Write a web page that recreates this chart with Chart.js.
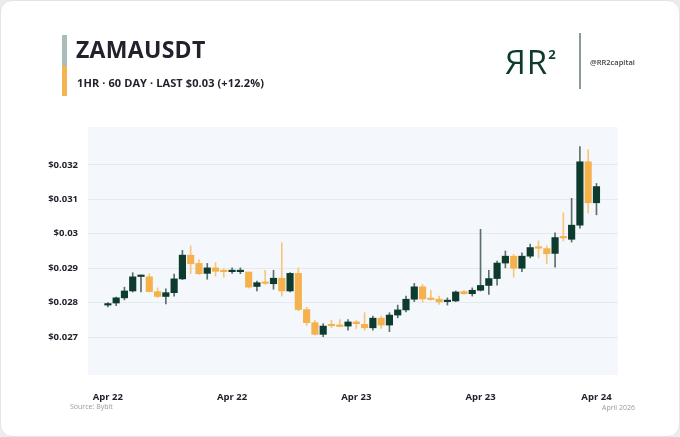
<!DOCTYPE html>
<html>
<head>
<meta charset="utf-8">
<script src="https://cdn.jsdelivr.net/npm/chart.js@4.4.1/dist/chart.umd.min.js"></script>
<style>
  html, body { margin: 0; padding: 0; background: #ececec; }
  #card { position: absolute; left: 0; top: 0; width: 678px; height: 435px; background: #fff;
          border: 1px solid #e4e4e4; border-radius: 12px; overflow: hidden; font-family: "Open Sans", sans-serif; }
  canvas { position: absolute; left: 0; top: 0; }
  .bar1 { position: absolute; left: 61px; top: 34px; width: 5px; height: 31px; background: #a9bebb; }
  .bar2 { position: absolute; left: 61px; top: 65px; width: 5px; height: 30px; background: #f3b451; }
  #title { position: absolute; left: 75px; top: 32px; font-size: 23px; font-weight: 700; color: #22222c; letter-spacing: 0.3px; }
  #sub { position: absolute; left: 76px; top: 74px; font-size: 11px; font-weight: 700; color: #22222c; letter-spacing: 0.1px; }
  #logo { position: absolute; left: 504px; top: 38px; font-size: 33px; font-weight: 500; color: #0d3b2e; letter-spacing: 1px; }
  #logo sup { font-size: 13px; font-weight: 700; position: relative; top: -3px; margin-left: 0px; }
  #divider { position: absolute; left: 578px; top: 32px; width: 1.5px; height: 56px; background: #8a9a95; }
  #handle { position: absolute; left: 589px; top: 56px; font-size: 7.5px; font-weight: 600; color: #444; }
  #src { position: absolute; left: 69px; top: 401px; font-size: 7px; color: #9a9a9a; }
  #date { position: absolute; left: 601px; top: 402px; font-size: 7px; color: #9a9a9a; }
</style>
</head>
<body>
<div id="card">
  <canvas id="graf" width="680" height="437"></canvas>
  <div class="bar1"></div><div class="bar2"></div>
  <div id="title">ZAMAUSDT</div>
  <div id="sub">1HR · 60 DAY · LAST $0.03 (+12.2%)</div>
  <div id="logo">ЯR<sup>2</sup></div>
  <div id="divider"></div>
  <div id="handle">@RR2capital</div>
  <div id="src">Source: Bybit</div>
  <div id="date">April 2026</div>
</div>
<script>
// velas de 1 hora
var abertura = [0.02793,0.02799,0.02814,0.02834,0.02876,0.02875,0.02832,0.02818,0.02829,0.02869,
                0.02938,0.02914,0.02885,0.02901,0.02891,0.02890,0.02890,0.02889,0.02847,0.02858,
                0.02855,0.02871,0.02834,0.02885,0.02780,0.02742,0.02708,0.02734,0.02733,0.02732,
                0.02744,0.02737,0.02727,0.02755,0.02735,0.02764,0.02779,0.02810,0.02846,0.02811,
                0.02810,0.02803,0.02805,0.02832,0.02826,0.02836,0.02850,0.02870,0.02915,0.02935,
                0.02900,0.02935,0.02960,0.02957,0.02943,0.02990,0.02984,0.03025,0.03209,0.03090];
var maxima   = [0.02800,0.02816,0.02845,0.02887,0.02880,0.02884,0.02843,0.02840,0.02883,0.02952,
                0.02965,0.02925,0.02914,0.02916,0.02898,0.02901,0.02901,0.02889,0.02863,0.02894,
                0.02894,0.02974,0.02887,0.02901,0.02787,0.02749,0.02739,0.02749,0.02751,0.02751,
                0.02749,0.02771,0.02761,0.02761,0.02771,0.02793,0.02819,0.02856,0.02853,0.02836,
                0.02819,0.02814,0.02834,0.02836,0.02843,0.03013,0.02894,0.02921,0.02950,0.02940,
                0.02945,0.02970,0.02979,0.02965,0.03003,0.03061,0.03103,0.03253,0.03244,0.03146];
var minima   = [0.02788,0.02791,0.02808,0.02831,0.02831,0.02831,0.02815,0.02796,0.02819,0.02867,
                0.02884,0.02882,0.02868,0.02877,0.02874,0.02885,0.02884,0.02842,0.02834,0.02853,
                0.02839,0.02819,0.02831,0.02776,0.02734,0.02706,0.02701,0.02727,0.02730,0.02720,
                0.02725,0.02720,0.02720,0.02725,0.02716,0.02756,0.02773,0.02803,0.02802,0.02807,
                0.02795,0.02793,0.02803,0.02824,0.02819,0.02834,0.02824,0.02851,0.02901,0.02874,
                0.02890,0.02930,0.02930,0.02913,0.02903,0.02979,0.02976,0.03016,0.03060,0.03055];
var fechamento = [0.02796,0.02814,0.02834,0.02875,0.02877,0.02832,0.02818,0.02829,0.02869,0.02938,
                0.02913,0.02884,0.02901,0.02891,0.02890,0.02891,0.02891,0.02845,0.02858,0.02856,
                0.02871,0.02834,0.02885,0.02780,0.02742,0.02708,0.02732,0.02733,0.02731,0.02744,
                0.02739,0.02727,0.02755,0.02735,0.02764,0.02779,0.02810,0.02846,0.02811,0.02809,
                0.02802,0.02805,0.02831,0.02826,0.02836,0.02850,0.02870,0.02915,0.02935,0.02900,
                0.02935,0.02960,0.02958,0.02942,0.02989,0.02988,0.03025,0.03209,0.03090,0.03137];

// rotulos do eixo X
var posRotulos = [0, 15, 30, 45, 59];
var rotulos = ['Apr 22', 'Apr 22', 'Apr 23', 'Apr 23', 'Apr 24'];
// rotulos do eixo Y
var ticksY = [0.027, 0.028, 0.029, 0.030, 0.031, 0.032];

var verde = '#0d3b2e', laranja = '#f5b24c';
var pavioVerde = '#5d6f6a', pavioLaranja = '#f7c67a';

var corpos = [], pavios = [], corCorpo = [], corPavio = [];
for (var i = 0; i < abertura.length; i++) {
    var alta = fechamento[i] >= abertura[i];
    corpos.push({x: i, y: [abertura[i], fechamento[i]]});
    pavios.push({x: i, y: [minima[i], maxima[i]]});
    corCorpo.push(alta ? verde : laranja);
    corPavio.push(alta ? pavioVerde : pavioLaranja);
}

var fundo = {
    id: 'fundo',
    beforeDraw: function (chart) {
        var a = chart.chartArea, ctx = chart.ctx;
        ctx.save();
        ctx.fillStyle = '#f4f8fc';
        ctx.fillRect(a.left, a.top, a.right - a.left, a.bottom - a.top);
        ctx.restore();
    }
};

var graf = new Chart(document.getElementById('graf'), {
    type: 'bar',
    data: {
        datasets: [{
            label: 'Corpo',
            data: corpos,
            backgroundColor: corCorpo,
            barThickness: 6.5,
            minBarLength: 1.5,
            grouped: false
        }, {
            label: 'Pavio',
            data: pavios,
            backgroundColor: corPavio,
            barThickness: 1,
            grouped: false
        }]
    },
    options: {
        responsive: false,
        animation: false,
        layout: { padding: { top: 126, right: 63, left: 0, bottom: 0 } },
        plugins: { legend: { display: false }, tooltip: { enabled: false } },
        scales: {
            x: {
                type: 'linear',
                min: -2.4,
                max: 61.6,
                offset: false,
                grid: { display: false },
                border: { display: false },
                afterBuildTicks: function (s) { s.ticks = posRotulos.map(function (v) { return {value: v}; }); },
                afterFit: function (s) { s.height = 63; },
                ticks: {
                    padding: 9,
                    maxRotation: 0,
                    autoSkip: false,
                    color: '#22222c',
                    font: { family: 'Open Sans', size: 9.5, weight: 'bold' },
                    callback: function (v) { return rotulos[posRotulos.indexOf(v)]; }
                }
            },
            y: {
                min: 0.0259,
                max: 0.0331,
                grid: { color: '#e6eaee', drawTicks: false, lineWidth: 1 },
                border: { display: false },
                afterBuildTicks: function (s) { s.ticks = ticksY.map(function (v) { return {value: v}; }); },
                afterFit: function (s) { s.width = 87; },
                ticks: {
                    padding: 10,
                    color: '#22222c',
                    font: { family: 'Open Sans', size: 9.5, weight: 'bold' },
                    callback: function (v) { return '$' + Number(v.toFixed(3)); }
                }
            }
        }
    },
    plugins: [fundo]
});
</script>
</body>
</html>
